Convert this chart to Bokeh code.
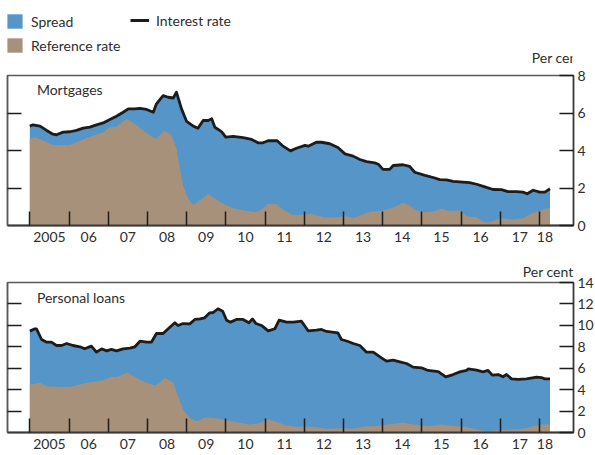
from bokeh.plotting import figure
from bokeh.models import LinearAxis, FixedTicker, Range1d, Legend, LegendItem, Label, Title
from bokeh.layouts import column
from bokeh.embed import file_html
from bokeh.resources import INLINE

# ---------------- data (decimal years, per cent) ----------------
mort_rate_x = [2005.00, 2005.08, 2005.26, 2005.43, 2005.59, 2005.68, 2005.85, 2006.02, 2006.19, 2006.36,
               2006.53, 2006.70, 2006.87, 2007.04, 2007.21, 2007.38, 2007.51, 2007.68, 2007.81, 2007.98,
               2008.15, 2008.23, 2008.40, 2008.53, 2008.66, 2008.74, 2008.87, 2009.00, 2009.17, 2009.29,
               2009.42, 2009.55, 2009.64, 2009.72, 2009.89, 2010.00, 2010.19, 2010.44, 2010.66, 2010.82,
               2010.95, 2011.08, 2011.31, 2011.46, 2011.65, 2011.80, 2012.02, 2012.10, 2012.31, 2012.44,
               2012.65, 2012.86, 2013.04, 2013.25, 2013.42, 2013.59, 2013.80, 2013.89, 2014.01, 2014.18,
               2014.27, 2014.52, 2014.69, 2014.82, 2015.08, 2015.29, 2015.46, 2015.63, 2015.80, 2016.05,
               2016.22, 2016.40, 2016.61, 2016.82, 2017.03, 2017.20, 2017.42, 2017.58, 2017.69, 2017.84,
               2018.01, 2018.14, 2018.27]
mort_rate = [5.30, 5.37, 5.30, 5.07, 4.87, 4.84, 4.98, 5.00, 5.07, 5.19,
             5.25, 5.37, 5.47, 5.65, 5.83, 6.04, 6.22, 6.22, 6.25, 6.19,
             6.04, 6.49, 6.93, 6.84, 6.80, 7.11, 6.22, 5.55, 5.30, 5.19,
             5.60, 5.60, 5.69, 5.24, 5.01, 4.71, 4.75, 4.69, 4.59, 4.41,
             4.41, 4.52, 4.52, 4.23, 3.98, 4.12, 4.27, 4.23, 4.44, 4.44,
             4.36, 4.16, 3.82, 3.70, 3.52, 3.41, 3.34, 3.27, 2.99, 2.99,
             3.20, 3.24, 3.15, 2.84, 2.67, 2.56, 2.45, 2.43, 2.35, 2.31,
             2.29, 2.20, 2.06, 1.92, 1.91, 1.81, 1.81, 1.78, 1.69, 1.88,
             1.78, 1.78, 1.96]

mort_ref_x = [2005.00, 2005.13, 2005.34, 2005.59, 2006.02, 2006.36, 2006.62, 2006.87, 2007.04, 2007.21,
              2007.47, 2007.68, 2007.98, 2008.23, 2008.42, 2008.61, 2008.74, 2008.83, 2008.91, 2009.04,
              2009.17, 2009.38, 2009.55, 2009.72, 2009.89, 2010.19, 2010.44, 2010.78, 2010.91, 2011.08,
              2011.29, 2011.46, 2011.68, 2011.93, 2012.19, 2012.53, 2012.82, 2013.08, 2013.25, 2013.50,
              2013.72, 2013.93, 2014.18, 2014.35, 2014.52, 2014.69, 2014.87, 2015.08, 2015.29, 2015.50,
              2015.71, 2015.97, 2016.14, 2016.40, 2016.61, 2016.73, 2016.99, 2017.33, 2017.58, 2017.84,
              2018.05, 2018.18, 2018.27]
mort_ref = [4.62, 4.71, 4.53, 4.30, 4.30, 4.59, 4.80, 4.98, 5.24, 5.28,
            5.69, 5.42, 4.92, 4.62, 5.07, 4.84, 4.09, 3.02, 2.13, 1.42,
            1.10, 1.42, 1.69, 1.46, 1.21, 0.92, 0.82, 0.71, 0.85, 1.16,
            1.13, 0.85, 0.57, 0.57, 0.62, 0.43, 0.44, 0.50, 0.39, 0.60,
            0.75, 0.78, 0.89, 1.03, 1.21, 1.07, 0.80, 0.71, 0.75, 0.89,
            0.78, 0.80, 0.50, 0.44, 0.18, 0.18, 0.39, 0.32, 0.39, 0.68,
            0.80, 0.92, 0.92]

loan_rate_x = [2005.00, 2005.13, 2005.17, 2005.30, 2005.43, 2005.55, 2005.68, 2005.81, 2005.94, 2006.10,
               2006.28, 2006.40, 2006.57, 2006.70, 2006.83, 2006.96, 2007.08, 2007.21, 2007.38, 2007.55,
               2007.68, 2007.81, 2007.98, 2008.10, 2008.23, 2008.40, 2008.53, 2008.70, 2008.78, 2008.91,
               2009.08, 2009.21, 2009.34, 2009.46, 2009.59, 2009.68, 2009.80, 2009.92, 2010.02, 2010.12,
               2010.27, 2010.44, 2010.59, 2010.68, 2010.77, 2010.91, 2011.08, 2011.25, 2011.36, 2011.55,
               2011.72, 2011.93, 2012.10, 2012.31, 2012.44, 2012.57, 2012.86, 2012.95, 2013.12, 2013.25,
               2013.42, 2013.59, 2013.76, 2013.97, 2014.10, 2014.27, 2014.44, 2014.61, 2014.78, 2014.99,
               2015.16, 2015.42, 2015.61, 2015.80, 2015.97, 2016.14, 2016.18, 2016.40, 2016.56, 2016.69,
               2016.80, 2016.95, 2017.07, 2017.16, 2017.29, 2017.46, 2017.67, 2017.93, 2018.05, 2018.14,
               2018.27]
loan_rate = [9.46, 9.68, 9.68, 8.68, 8.43, 8.43, 8.12, 8.12, 8.31, 8.12,
             8.00, 7.81, 8.06, 7.50, 7.81, 7.62, 7.75, 7.62, 7.81, 7.87,
             8.00, 8.52, 8.43, 8.43, 9.24, 9.24, 9.68, 10.24, 9.99, 10.17,
             10.14, 10.55, 10.60, 10.70, 11.17, 11.20, 11.55, 11.32, 10.48, 10.30,
             10.55, 10.55, 10.24, 10.60, 10.17, 9.99, 9.49, 9.68, 10.48, 10.30,
             10.30, 10.39, 9.49, 9.55, 9.62, 9.43, 9.30, 8.68, 8.49, 8.31,
             8.12, 7.50, 7.50, 6.97, 6.66, 6.75, 6.60, 6.44, 6.10, 6.04,
             5.79, 5.69, 5.20, 5.41, 5.66, 5.79, 5.94, 5.82, 5.66, 5.79,
             5.35, 5.41, 5.20, 5.41, 5.01, 4.95, 5.01, 5.16, 5.13, 5.01,
             5.01]

loan_ref_x = [2005.00, 2005.26, 2005.43, 2005.68, 2006.02, 2006.28, 2006.45, 2006.70, 2006.87, 2007.08,
              2007.25, 2007.48, 2007.68, 2007.89, 2008.19, 2008.32, 2008.44, 2008.66, 2008.78, 2008.91,
              2009.08, 2009.25, 2009.46, 2009.64, 2009.93, 2010.27, 2010.61, 2010.82, 2011.08, 2011.25,
              2011.55, 2011.80, 2012.23, 2012.57, 2012.99, 2013.25, 2013.50, 2013.93, 2014.01, 2014.27,
              2014.52, 2014.78, 2015.16, 2015.50, 2015.89, 2016.14, 2016.40, 2016.65, 2016.91, 2017.24,
              2017.58, 2017.84, 2018.09, 2018.27]
loan_ref = [4.48, 4.64, 4.32, 4.26, 4.26, 4.48, 4.64, 4.76, 4.88, 5.20,
            5.20, 5.63, 5.20, 4.79, 4.39, 4.64, 5.10, 4.64, 3.39, 2.15,
            1.37, 1.06, 1.37, 1.37, 1.21, 0.96, 0.75, 0.84, 1.21, 1.06,
            0.65, 0.53, 0.53, 0.34, 0.40, 0.34, 0.53, 0.62, 0.71, 0.81,
            0.93, 0.75, 0.59, 0.75, 0.59, 0.53, 0.28, 0.12, 0.22, 0.28,
            0.34, 0.59, 0.75, 0.75]

year_labels = ["2005", "06", "07", "08", "09", "10", "11", "12", "13", "14", "15", "16", "17", "18"]
legend_labels = ["Spread", "Reference rate", "Interest rate"]
unit_label = "Per cent"

# ---------------- styling ----------------
BLUE = "#5595c7"
BROWN = "#a8917a"
LINE = "#1c1c1c"
TEXT = "#2e2e2e"
FONT = "Lato"
FS = "14px"
W = 595
first_year = 2005
label_pos = [first_year + i + 0.5 for i in range(len(year_labels) - 1)] + [2018.14]
tick_years = [first_year + i for i in range(len(year_labels))]


def legend_fig():
    p = figure(width=W, height=66, x_range=Range1d(0, 1), y_range=Range1d(0, 1),
               x_axis_location=None, y_axis_location=None,
               output_backend="svg", toolbar_location=None, min_border=0,
               background_fill_color="white", border_fill_color="white")
    p.grid.visible = False
    p.outline_line_color = None
    # swatch renderers kept outside the visible range; only their legend glyphs show
    r_spread = p.varea(x=[5, 6], y1=[0, 0], y2=[1, 1], fill_color=BLUE)
    r_ref = p.varea(x=[5, 6], y1=[0, 0], y2=[1, 1], fill_color=BROWN)
    r_line = p.line(x=[5, 6], y=[0, 0], line_color=LINE, line_width=3)
    common = dict(glyph_width=19, glyph_height=18, label_standoff=7, spacing=6,
                  padding=0, margin=0, border_line_color=None, background_fill_alpha=0,
                  label_text_font=FONT, label_text_font_size=FS, label_text_color=TEXT,
                  label_height=18)
    l1 = Legend(items=[LegendItem(label=legend_labels[0], renderers=[r_spread]),
                       LegendItem(label=legend_labels[1], renderers=[r_ref])],
                location=(-2, 12), **common)
    l2 = Legend(items=[LegendItem(label=legend_labels[2], renderers=[r_line])],
                location=(123, 37), **common)
    p.add_layout(l1)
    p.add_layout(l2)
    p.add_layout(Label(x=575, y=9, x_units="screen", y_units="screen", text=unit_label,
                       text_align="right", text_baseline="middle",
                       text_font=FONT, text_font_size=FS, text_color=TEXT))
    return p


def panel(name, ymax, rx, ry, fx, fy, top_border, name_y, with_title):
    p = figure(frame_width=566, frame_height=150, x_range=Range1d(2004.43, 2018.87),
               y_range=Range1d(0, ymax), output_backend="svg", toolbar_location=None,
               y_axis_location="right", min_border_left=7, min_border_right=22,
               min_border_top=top_border, min_border_bottom=0,
               background_fill_color="white", border_fill_color="white")
    p.xgrid.visible = False
    p.ygrid.visible = False
    p.outline_line_color = "#5a5a5a"
    p.outline_line_width = 1.5

    p.varea(x=rx, y1=0, y2=ry, fill_color=BLUE)
    p.varea(x=fx, y1=0, y2=fy, fill_color=BROWN)
    p.line(rx, ry, line_color=LINE, line_width=2.8, line_join="round")

    xa = p.xaxis[0]
    xa.ticker = FixedTicker(ticks=label_pos, minor_ticks=tick_years)
    xa.major_label_overrides = {pos: lab for pos, lab in zip(label_pos, year_labels)}
    xa.major_tick_in = 0
    xa.major_tick_out = 0
    xa.minor_tick_in = 14
    xa.minor_tick_out = 0
    xa.minor_tick_line_color = LINE
    xa.minor_tick_line_width = 1.5
    xa.axis_line_color = "#3a3a3a"
    xa.axis_line_width = 2
    xa.major_label_text_font = FONT
    xa.major_label_text_font_size = FS
    xa.major_label_text_color = TEXT
    xa.major_label_standoff = 6

    ticks = list(range(0, ymax + 1, 2))
    ya = p.yaxis[0]
    ya.ticker = FixedTicker(ticks=ticks)
    ya.major_tick_in = 14
    ya.major_tick_out = 0
    ya.minor_tick_in = 0
    ya.minor_tick_out = 0
    ya.major_tick_line_color = LINE
    ya.major_tick_line_width = 1.3
    ya.axis_line_color = "#3a3a3a"
    ya.axis_line_width = 1.5
    ya.major_label_text_font = FONT
    ya.major_label_text_font_size = FS
    ya.major_label_text_color = TEXT
    ya.major_label_standoff = 4

    la = LinearAxis(ticker=FixedTicker(ticks=ticks[1:-1]), major_tick_in=14, major_tick_out=0,
                    minor_tick_in=0, minor_tick_out=0, major_label_text_alpha=0,
                    major_label_text_font_size="1px", major_label_standoff=0,
                    major_tick_line_color=LINE, major_tick_line_width=1.3,
                    axis_line_color="#5a5a5a", axis_line_width=1.5)
    p.add_layout(la, "left")

    p.add_layout(Label(x=2005.18, y=name_y, text=name, text_baseline="middle",
                       text_font=FONT, text_font_size=FS, text_color=TEXT))

    if with_title:
        p.add_layout(Title(text=unit_label, align="right", text_font=FONT, text_font_size=FS,
                           text_font_style="normal", text_color=TEXT, standoff=6), "above")
    return p


leg = legend_fig()
top = panel("Mortgages", 8, mort_rate_x, mort_rate, mort_ref_x, mort_ref, 9, 7.25, False)
bottom = panel("Personal loans", 14, loan_rate_x, loan_rate, loan_ref_x, loan_ref, 38, 12.6, True)

layout = column(leg, top, bottom, spacing=0)
open("out.html", "w").write(file_html(layout, INLINE))
